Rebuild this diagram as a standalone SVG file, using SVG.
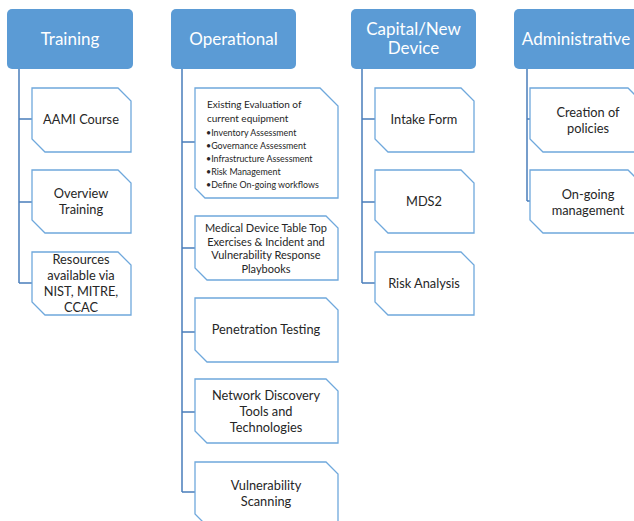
<svg xmlns="http://www.w3.org/2000/svg" width="634" height="521" viewBox="0 0 634 521">
  <style>
    .hdr { fill: #5b9bd5; }
    .hdr-t { fill: #ffffff; font-family: Lato, "Open Sans", sans-serif; font-size: 17px; text-anchor: middle; }
    .box { fill: #ffffff; stroke: #6fa8dc; stroke-width: 1.3; }
    .t { fill: #262626; font-family: Lato, "Open Sans", sans-serif; font-size: 12.8px; text-anchor: middle; }
    .tm { fill: #262626; font-family: Lato, "Open Sans", sans-serif; font-size: 11px; text-anchor: middle; }
    .ts { fill: #262626; font-family: Lato, "Open Sans", sans-serif; font-size: 10px; }
    .tb { fill: #262626; font-family: Lato, "Open Sans", sans-serif; font-size: 8.9px; }
    .conn { fill: none; stroke: #4a7ebb; stroke-width: 1.5; }
  </style>
  <rect width="634" height="521" fill="#ffffff"/>

  <!-- connectors: trunk from each header down to its children -->
  <g id="connectors">
    <path class="conn" d="M19 69 V283 M19 119 H32 M19 202 H32 M19 283 H32"/>
    <path class="conn" d="M182 69 V492 M182 142 H195 M182 248 H195 M182 332 H195 M182 412 H195 M182 492 H195"/>
    <path class="conn" d="M362 69 V283 M362 119 H375 M362 202 H375 M362 283 H375"/>
    <path class="conn" d="M527 69 V201 M527 119 H530 M527 201 H530"/>
  </g>

  <!-- Training column -->
  <g id="training">
    <rect class="hdr" x="7" y="9" width="126" height="60" rx="5"/>
    <text class="hdr-t" x="70" y="45">Training</text>
  </g>
  <g id="aami-course">
    <path class="box" d="M32 88 H118 L131 101 V152 H45 L32 139 Z"/>
    <text class="t" x="81" y="124">AAMI Course</text>
  </g>
  <g id="overview-training">
    <path class="box" d="M32 170 H118 L131 183 V233 H45 L32 220 Z"/>
    <text class="t" x="81" y="198">Overview</text>
    <text class="t" x="81" y="214">Training</text>
  </g>
  <g id="resources">
    <path class="box" d="M32 252 H118 L131 265 V315 H45 L32 302 Z"/>
    <text class="t" x="81" y="264">Resources</text>
    <text class="t" x="81" y="280">available via</text>
    <text class="t" x="81" y="296">NIST, MITRE,</text>
    <text class="t" x="81" y="312">CCAC</text>
  </g>

  <!-- Operational column -->
  <g id="operational">
    <rect class="hdr" x="171" y="9" width="125" height="60" rx="5"/>
    <text class="hdr-t" x="233.5" y="45">Operational</text>
  </g>
  <g id="existing-evaluation">
    <path class="box" d="M195 88 H320 L338 106 V198 H205 L195 188 Z"/>
    <text class="ts" x="207" y="108">Existing Evaluation of</text>
    <text class="ts" x="207" y="122">current equipment</text>
    <text class="tb" x="206" y="136">•Inventory Assessment</text>
    <text class="tb" x="206" y="149">•Governance Assessment</text>
    <text class="tb" x="206" y="162">•Infrastructure Assessment</text>
    <text class="tb" x="206" y="175">•Risk Management</text>
    <text class="tb" x="206" y="188">•Define On-going workflows</text>
  </g>
  <g id="table-top-exercises">
    <path class="box" d="M195 216 H326 L338 228 V280 H207 L195 268 Z"/>
    <text class="tm" x="266" y="232">Medical Device Table Top</text>
    <text class="tm" x="266" y="245.5">Exercises &amp; Incident and</text>
    <text class="tm" x="266" y="259">Vulnerability Response</text>
    <text class="tm" x="266" y="272.5">Playbooks</text>
  </g>
  <g id="penetration-testing">
    <path class="box" d="M195 298 H326 L338 310 V362 H207 L195 350 Z"/>
    <text class="t" x="266" y="334">Penetration Testing</text>
  </g>
  <g id="network-discovery">
    <path class="box" d="M195 379 H326 L338 391 V443 H207 L195 431 Z"/>
    <text class="t" x="266" y="400">Network Discovery</text>
    <text class="t" x="266" y="416">Tools and</text>
    <text class="t" x="266" y="432">Technologies</text>
  </g>
  <g id="vulnerability-scanning">
    <path class="box" d="M195 462 H326 L338 474 V526 H207 L195 514 Z"/>
    <text class="t" x="266" y="490">Vulnerability</text>
    <text class="t" x="266" y="506">Scanning</text>
  </g>

  <!-- Capital/New Device column -->
  <g id="capital-new-device">
    <rect class="hdr" x="351" y="9" width="125" height="60" rx="5"/>
    <text class="hdr-t" x="413.5" y="35">Capital/New</text>
    <text class="hdr-t" x="413.5" y="54">Device</text>
  </g>
  <g id="intake-form">
    <path class="box" d="M375 88 H461 L474 101 V152 H388 L375 139 Z"/>
    <text class="t" x="424" y="124">Intake Form</text>
  </g>
  <g id="mds2">
    <path class="box" d="M375 170 H461 L474 183 V233 H388 L375 220 Z"/>
    <text class="t" x="424" y="206">MDS2</text>
  </g>
  <g id="risk-analysis">
    <path class="box" d="M375 252 H461 L474 265 V315 H388 L375 302 Z"/>
    <text class="t" x="424" y="288">Risk Analysis</text>
  </g>

  <!-- Administrative column -->
  <g id="administrative">
    <rect class="hdr" x="514" y="9" width="124" height="60" rx="5"/>
    <text class="hdr-t" x="576" y="45">Administrative</text>
  </g>
  <g id="creation-of-policies">
    <path class="box" d="M530 88 H628 L644 104 V152 H543 L530 139 Z"/>
    <text class="t" x="588" y="117">Creation of</text>
    <text class="t" x="588" y="133">policies</text>
  </g>
  <g id="ongoing-management">
    <path class="box" d="M530 170 H628 L644 186 V233 H543 L530 220 Z"/>
    <text class="t" x="588" y="199">On-going</text>
    <text class="t" x="588" y="215">management</text>
  </g>
</svg>
